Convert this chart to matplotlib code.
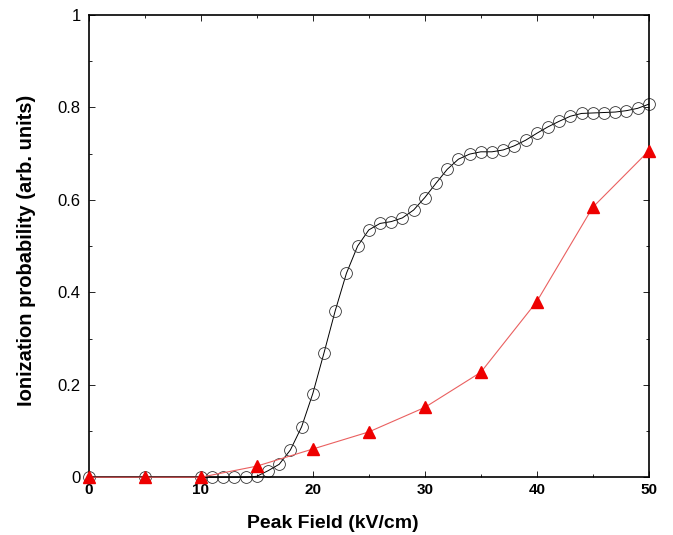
import matplotlib
matplotlib.use("Agg")
import matplotlib.pyplot as plt
from matplotlib.ticker import MultipleLocator

plt.rcParams['font.family'] = ['Liberation Sans', 'DejaVu Sans']

# Black circles series
field_a = [0, 5, 10, 11, 12, 13, 14, 15, 16, 17, 18, 19, 20, 21, 22, 23, 24, 25,
           26, 27, 28, 29, 30, 31, 32, 33, 34, 35, 36, 37, 38, 39, 40, 41, 42,
           43, 44, 45, 46, 47, 48, 49, 50]
prob_a = [0.0, 0.0, 0.0, 0.0, 0.0, 0.0, 0.0, 0.002, 0.014, 0.028, 0.059, 0.109,
          0.181, 0.269, 0.360, 0.441, 0.500, 0.535, 0.549, 0.553, 0.561, 0.578,
          0.605, 0.636, 0.666, 0.688, 0.699, 0.704, 0.704, 0.708, 0.717, 0.729,
          0.744, 0.758, 0.770, 0.781, 0.787, 0.788, 0.789, 0.790, 0.793, 0.798,
          0.807]

# Red triangles series
field_b = [0, 5, 10, 15, 20, 25, 30, 35, 40, 45, 50]
prob_b = [0.0, 0.0, 0.0, 0.024, 0.061, 0.098, 0.151, 0.227, 0.380, 0.584, 0.706]

xticks = [0, 10, 20, 30, 40, 50]
yticks = [0, 0.2, 0.4, 0.6, 0.8, 1]
ytick_labels = ['0', '0.2', '0.4', '0.6', '0.8', '1']

fig = plt.figure(figsize=(6.73, 5.35), dpi=100)
ax = fig.add_axes([0.132, 0.108, 0.832, 0.864])

ax.plot(field_a, prob_a, color='black', lw=0.7, marker='o', ms=8.5,
        mfc='none', mec='#333333', mew=0.6, zorder=2, clip_on=False)
ax.plot(field_b, prob_b, color='#ea6060', lw=0.8, marker='^', ms=9,
        mfc='#ee0000', mec='#ee0000', zorder=3, clip_on=False)

ax.set_xlim(0, 50)
ax.set_ylim(0, 1)
ax.set_xticks(xticks)
ax.set_xticklabels([str(t) for t in xticks], fontweight='bold', fontsize=11)
ax.set_yticks(yticks)
ax.set_yticklabels(ytick_labels, fontsize=12)
ax.xaxis.set_minor_locator(MultipleLocator(5))
ax.yaxis.set_minor_locator(MultipleLocator(0.1))
ax.tick_params(which='both', direction='in', top=True, right=True, width=0.6)
ax.tick_params(which='major', length=4)
ax.tick_params(which='minor', length=2.5)
ax.tick_params(axis='y', pad=6)
ax.tick_params(axis='x', pad=4)
for s in ax.spines.values():
    s.set_linewidth(1.2)

ax.set_xlabel('Peak Field (kV/cm)', fontsize=14, fontweight='bold')
ax.set_ylabel('Ionization probability (arb. units)', fontsize=14.5,
              fontweight='bold')
ax.xaxis.set_label_coords(0.435, -0.082)
ax.yaxis.set_label_coords(-0.095, 0.49)

fig.savefig('out.png', dpi=100)
